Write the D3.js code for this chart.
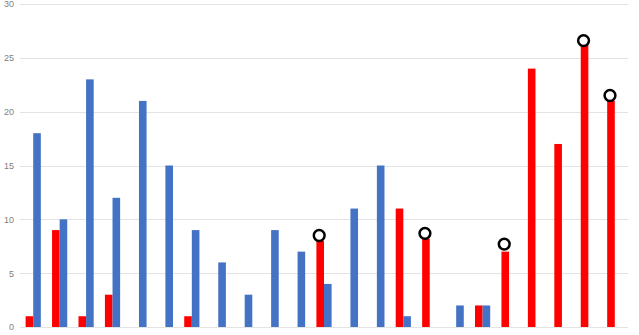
<!DOCTYPE html>
<html>
<head>
<meta charset="utf-8">
<script src="https://cdn.jsdelivr.net/npm/d3@7"></script>
<style>
  body { margin: 0; background: #fff; }
  svg { display: block; font-family: "Open Sans", "DejaVu Sans", sans-serif; }
</style>
</head>
<body>
<script>
// categories (no labels shown on the x axis)
var categories = ["1","2","3","4","5","6","7","8","9","10","11","12","13","14","15","16","17","18","19","20","21","22","23"];
var redValues  = [1, 9, 1, 3, 0, 0, 1, 0, 0, 0, 0, 8, 0, 0, 11, 8.2, 0, 2, 7, 24, 17, 26.2, 21];
var blueValues = [18, 10, 23, 12, 21, 15, 9, 6, 3, 9, 7, 4, 11, 15, 1, 0, 2, 2, 0, 0, 0, 0, 0];
var markerValues = [null, null, null, null, null, null, null, null, null, null, null, 8.5, null, null, null, 8.7, null, null, 7.7, null, null, 26.6, 21.5];
var yTicks = [0, 5, 10, 15, 20, 25, 30];

var width = 639, height = 335;
var margin = {top: 4, right: 11, bottom: 8, left: 20};

var svg = d3.select("body").append("svg")
    .attr("width", width)
    .attr("height", height);

var x = d3.scaleBand()
    .domain(categories)
    .range([margin.left, width - margin.right]);

var barW = 7.6;
var xSeries = d3.scaleBand()
    .domain(["red", "blue"])
    .range([x.bandwidth() / 2 - barW, x.bandwidth() / 2 + barW]);

var y = d3.scaleLinear()
    .domain([0, 30])
    .range([height - margin.bottom, margin.top]);

// gridlines
svg.append("g")
    .selectAll("line")
    .data(yTicks)
    .join("line")
    .attr("x1", margin.left)
    .attr("x2", width - margin.right)
    .attr("y1", function (d) { return Math.round(y(d)) + 0.5; })
    .attr("y2", function (d) { return Math.round(y(d)) + 0.5; })
    .style("stroke", "#e3e3e3")
    .style("stroke-width", 1);

// y axis labels
var yAxis = d3.axisLeft(y).tickValues(yTicks).tickSize(0).tickPadding(0);
var yg = svg.append("g")
    .attr("transform", "translate(" + (margin.left - 6) + ",0)")
    .call(yAxis);
yg.select(".domain").remove();
yg.selectAll("text")
    .style("font-size", "9px")
    .style("fill", "#808080");

var rows = categories.map(function (c, i) {
    return {cat: c, red: redValues[i], blue: blueValues[i], marker: markerValues[i]};
});

var groups = svg.append("g")
    .selectAll("g")
    .data(rows)
    .join("g")
    .attr("transform", function (d) { return "translate(" + x(d.cat) + ",0)"; });

groups.append("rect")
    .attr("x", xSeries("red"))
    .attr("width", xSeries.bandwidth())
    .attr("y", function (d) { return y(d.red); })
    .attr("height", function (d) { return y(0) - y(d.red); })
    .style("fill", "#ff0000");

groups.append("rect")
    .attr("x", xSeries("blue"))
    .attr("width", xSeries.bandwidth())
    .attr("y", function (d) { return y(d.blue); })
    .attr("height", function (d) { return y(0) - y(d.blue); })
    .style("fill", "#4472c4");

// circle markers over some red bars
svg.append("g")
    .selectAll("circle")
    .data(rows.filter(function (d) { return d.marker != null; }))
    .join("circle")
    .attr("cx", function (d) { return x(d.cat) + xSeries("red") + xSeries.bandwidth() / 2 - 1; })
    .attr("cy", function (d) { return y(d.marker); })
    .attr("r", 5.4)
    .style("fill", "#fff")
    .style("stroke", "#000")
    .style("stroke-width", 2.5);
</script>
</body>
</html>
